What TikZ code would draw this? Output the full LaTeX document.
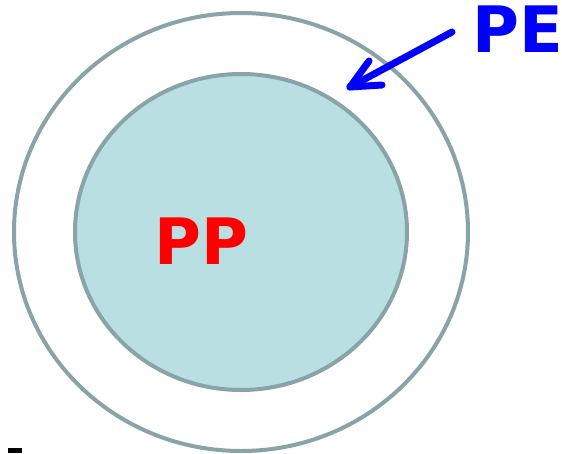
\documentclass[tikz,border=0pt]{standalone}
\usepackage{fontspec}
\setmainfont{DejaVu Sans}
\definecolor{ringgray}{HTML}{88A4A6}
\definecolor{innerfill}{HTML}{B9DFE2}
\definecolor{pered}{RGB}{255,0,0}
\definecolor{peblue}{RGB}{0,0,255}
\begin{document}
\begin{tikzpicture}[x=1pt,y=-1pt,
  ring/.style={draw=ringgray,line width=4pt},
  biglabel/.style={font=\bfseries\fontsize{64}{64}\selectfont,inner sep=0pt,anchor=base},
  arrowline/.style={draw=peblue,line width=7pt,line cap=round,line join=round}]
\useasboundingbox (0,0) rectangle (562,453);
\fill[white] (0,0) rectangle (562,453);
\draw[ring] (241,232) ellipse [x radius=227, y radius=219];
\draw[ring,fill=innerfill] (241,232) ellipse [x radius=166, y radius=158];
\node[biglabel,text=pered] (pp) at (201,264) {PP};
\node[biglabel,text=peblue] (pe) at (518,52) {PE};
\coordinate (as) at (452,32);
\coordinate (at) at (350,87);
\coordinate (b1) at (369,61);
\coordinate (b2) at (382,85);
\draw[arrowline] (as) -- (at);
\draw[arrowline] (b1) -- (at) -- (b2);
\fill[black] (8,448) rectangle (22,453);
\end{tikzpicture}
\end{document}
